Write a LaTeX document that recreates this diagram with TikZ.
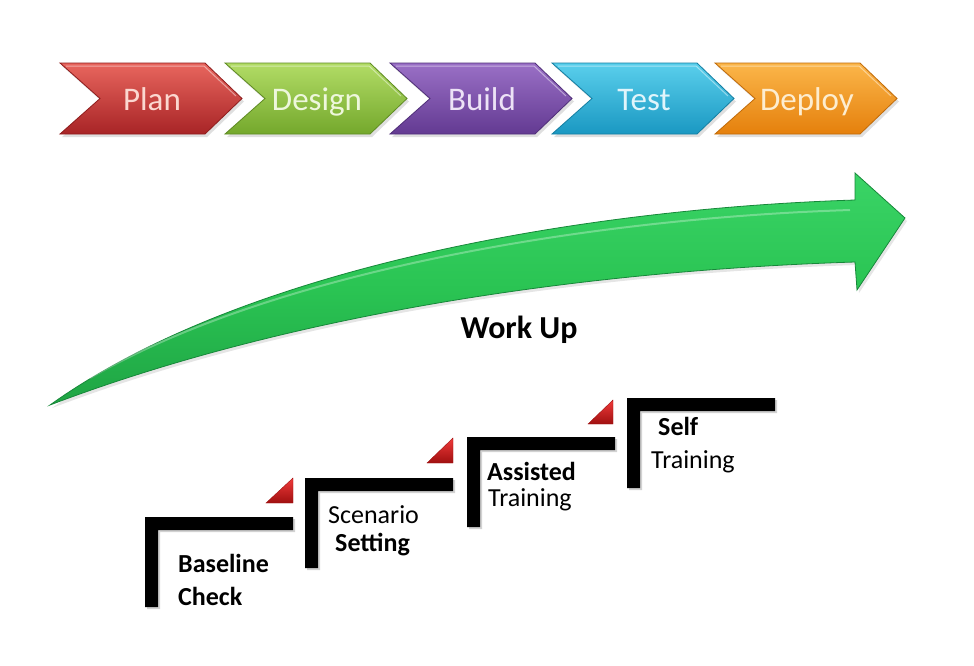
\documentclass[tikz,border=0pt]{standalone}
\usepackage{fontspec}
\setmainfont{Carlito}
\usetikzlibrary{shadows}
\definecolor{planT}{HTML}{E8665E}\definecolor{planB}{HTML}{A82426}\definecolor{planE}{HTML}{8E1C1C}\definecolor{planX}{HTML}{FBD7D0}
\definecolor{desT}{HTML}{B2DC66}\definecolor{desB}{HTML}{74A82C}\definecolor{desE}{HTML}{5E8A22}\definecolor{desX}{HTML}{EEF7DC}
\definecolor{bldT}{HTML}{9A70C6}\definecolor{bldB}{HTML}{633A92}\definecolor{bldE}{HTML}{4F2E78}\definecolor{bldX}{HTML}{ECE2F6}
\definecolor{tstT}{HTML}{5ACFEC}\definecolor{tstB}{HTML}{1A98C2}\definecolor{tstE}{HTML}{137EA2}\definecolor{tstX}{HTML}{E0F5FB}
\definecolor{depT}{HTML}{FBB64A}\definecolor{depB}{HTML}{E5800C}\definecolor{depE}{HTML}{C06A08}\definecolor{depX}{HTML}{FDEDD0}
\definecolor{arrT}{HTML}{3AD466}\definecolor{arrM}{HTML}{2AC453}\definecolor{arrB}{HTML}{1FA444}\definecolor{arrE}{HTML}{17883A}
\definecolor{triT}{HTML}{F03A3A}\definecolor{triB}{HTML}{A01010}
\tikzset{
  chevlabel/.style={font=\fontsize{33}{35}\selectfont, inner sep=0pt, anchor=base},
  steptext/.style={font=\fontsize{26}{28}\selectfont, anchor=base west, inner sep=0pt},
  stepbold/.style={steptext, font=\fontsize{26}{28}\selectfont\bfseries},
  stepbar/.style={fill=black, drop shadow={opacity=0.35, shadow xshift=2pt, shadow yshift=-2pt}},
  redtri/.style={top color=triT, bottom color=triB, draw=triB, line width=0.4pt},
}
\begin{document}
\begin{tikzpicture}[x=1pt,y=-1pt]
\useasboundingbox (0,0) rectangle (974,665);
\fill[white] (0,0) rectangle (974,665);
% chevrons
\foreach \s/\c/\t in {60/plan/Plan, 225/des/Design, 390/bld/Build, 552/tst/Test, 715/dep/Deploy}{
  \path[top color=\c T, bottom color=\c B, draw=\c E, line width=0.8pt,
        drop shadow={opacity=0.25, shadow xshift=2pt, shadow yshift=-3pt}]
    (\s,63) -- ({\s+145},63) -- ({\s+182},98.5) -- ({\s+145},134) -- (\s,134) -- ({\s+40},98.5) -- cycle;
  \draw[white, opacity=0.45, line width=1pt] ({\s+6},66) -- ({\s+144},66) -- ({\s+176},96);
  \node[chevlabel, text=\c X] (\c) at ({\s+92},110) {\t};
}
% green arrow
\path[top color=arrT, bottom color=arrB, middle color=arrM, draw=arrE, line width=0.8pt,
      drop shadow={opacity=0.2, shadow xshift=2pt, shadow yshift=-3pt}]
  (50,405) .. controls (250,262) and (600,208) .. (855,200)
  -- (855,173) -- (905,218) -- (857,290) -- (855,262)
  .. controls (600,270) and (300,310) .. (50,405) -- cycle;
\draw[white, opacity=0.3, line width=2pt] (90,378) .. controls (280,268) and (600,218) .. (850,210);
\node[font=\fontsize{32}{34}\selectfont\bfseries, anchor=base, inner sep=0pt] (workup) at (519,338) {Work Up};
% steps
\foreach \x/\y/\n in {145/517/s1, 305/478/s2, 467/437/s3, 627/398/s4}{
  \path[stepbar] (\x,\y) -- ({\x+148},\y) -- ({\x+148},{\y+13}) -- ({\x+13},{\y+13}) -- ({\x+13},{\y+90}) -- (\x,{\y+90}) -- cycle;
  \coordinate (\n) at (\x,\y);
}
% red triangles
\foreach \a/\b/\c/\d in {266/293/478/503, 427/453/438/463, 588/613/400/424}{
  \path[redtri] (\a,\d) -- (\b,\d) -- (\b,\c) -- cycle;
}
% step texts
\node[stepbold] (t1a) at (178,572) {Baseline};
\node[stepbold] (t1b) at (178,605) {Check};
\node[steptext] (t2a) at (328,523) {Scenario};
\node[stepbold] (t2b) at (335,551) {Setting};
\node[stepbold] (t3a) at (487,480) {Assisted};
\node[steptext] (t3b) at (488,506) {Training};
\node[stepbold] (t4a) at (658,435) {Self};
\node[steptext] (t4b) at (651,468) {Training};
\end{tikzpicture}
\end{document}
